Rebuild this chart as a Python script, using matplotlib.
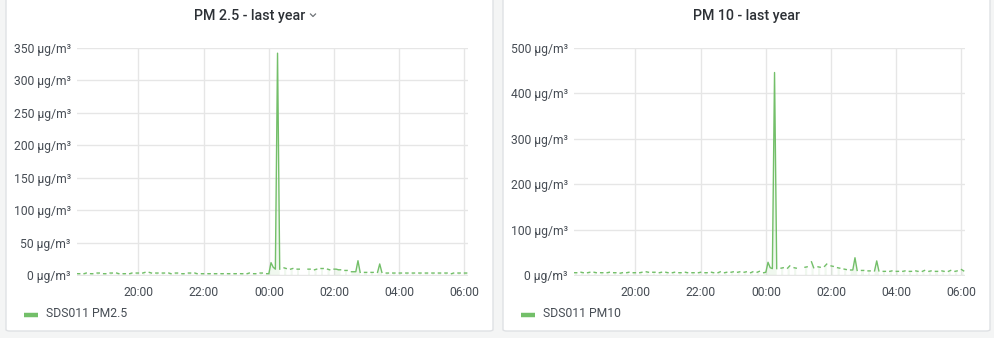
import matplotlib
matplotlib.use("Agg")
import matplotlib.pyplot as plt
import matplotlib.dates as mdates
from matplotlib.patches import FancyBboxPatch
from matplotlib.lines import Line2D
import numpy as np
import pandas as pd

plt.rcParams['font.family'] = ['Roboto', 'DejaVu Sans']

W, H = 994, 338

# readings every 4 minutes from 18:08 to 06:04, None = missing sample
N = None
pm25 = [
    2, 2, N, 2, 3, N, 2, 2, N, 3, 3, N, 2, 2, N,
    3, 3, N, 3, 2, N, 2, 2, N, 2, 3, N, 3, 3, N,
    3, 4, N, 4, 3, N, 3, 3, N, 3, 3, N, 3, 2, N,
    3, 3, N, 2, 2, N, 3, 3, N, 3, 2, N, 2, 2, N,
    2, 2, N, 2, 2, N, 2, 2, N, 2, 2, N, 2, 2, N,
    2, 2, N, 2, 3, N, 2, 2, N, 3, 3, N, 2, 2, 19,
    12, 9, 342, 9, N, 11, 10, N, 9, 10, N, 9, 9, N, 8,
    N, 9, 9, N, 8, 9, N, 10, 10, N, 9, 8, N, 9, 9,
    8, 8, N, 7, 7, N, 5, 5, 5, 22, 4, N, 4, 4, N,
    4, 4, N, 4, 17, 4, N, 3, 3, N, 3, 3, N, 3, 3,
    N, 3, 3, N, 3, 3, N, 3, 3, N, 3, 3, N, 3, 3,
    N, 3, 3, N, 3, 3, N, 2, 3, N, 3, 3, N, 3, 3,
]
pm10 = [
    5, 5, N, 6, 5, N, 5, 6, N, 6, 5, N, 5, 5, N,
    5, 6, N, 5, 5, N, 4, 5, N, 5, 6, N, 5, 5, N,
    5, 6, N, 7, 6, N, 6, 6, N, 5, 6, N, 6, 5, N,
    5, 6, N, 5, 5, N, 6, 5, N, 5, 5, N, 5, 6, N,
    5, 5, N, 6, 5, N, 5, 7, N, 5, 6, N, 6, 7, N,
    6, 7, N, 6, 7, N, 5, 7, N, 6, 8, N, 5, 6, 28,
    16, 14, 446, 14, N, 15, 16, N, 15, 20, N, 16, 15, N, 18,
    N, 17, 18, N, 29, 16, N, 18, 17, N, 19, 24, N, 20, 19,
    N, 16, 15, N, 13, 12, N, 11, 11, 38, 10, N, 10, 10, N,
    9, 9, N, 9, 31, 9, N, 8, 8, N, 8, 9, N, 8, 8,
    N, 8, 9, N, 8, 8, N, 9, 8, N, 8, 10, N, 8, 9,
    N, 8, 8, N, 9, 8, N, 8, 10, N, 8, 9, N, 12, 9,
]
times = pd.date_range('2021-03-01 18:08', periods=len(pm25), freq='4min')

panels = [
    dict(left=6, title="PM 2.5 - last year", label="SDS011 PM2.5", data=pm25,
         yticks=[0, 50, 100, 150, 200, 250, 300, 350], ytop=350, chevron=True),
    dict(left=503, title="PM 10 - last year", label="SDS011 PM10", data=pm10,
         yticks=[0, 100, 200, 300, 400, 500], ytop=500, chevron=False),
]

GREEN = '#73bf69'
TEXT = '#464c54'
GRID = '#e6e6e6'

fig = plt.figure(figsize=(W / 100, H / 100), dpi=100)
fig.patch.set_facecolor('#f4f5f5')


def fx(x):
    return x / W


def fy(y):
    return 1 - y / H


for p in panels:
    L = p['left']
    pw = 487
    box = FancyBboxPatch((fx(L), fy(331)), fx(pw), fy(-6) - fy(331),
                         boxstyle="round,pad=0,rounding_size=0.004",
                         transform=fig.transFigure, facecolor='white',
                         edgecolor='#dfe1e4', linewidth=1, zorder=-5)
    fig.patches.append(box)

    fig.text(fx(L + 243.5), fy(16), p['title'], ha='center', va='center',
             fontsize=10.3, color='#2d3136', fontweight='medium')
    if p['chevron']:
        fig.add_artist(Line2D([fx(310.5), fx(313), fx(315.5)],
                              [fy(14), fy(16.5), fy(14)],
                              transform=fig.transFigure, color='#6e7378', lw=0.9))

    ax_l, ax_r, ax_t, ax_b = L + 71, L + 462.3, 48, 276
    ax = fig.add_axes([fx(ax_l), fy(ax_b), fx(ax_r - ax_l), fy(ax_t) - fy(ax_b)])
    ax.set_zorder(1)
    ax.patch.set_alpha(0)

    y = np.array([np.nan if v is None else v for v in p['data']], dtype=float)
    ax.plot(times, y, color=GREEN, lw=1.0, zorder=3)
    ax.fill_between(times, y, 0, color=GREEN, alpha=0.1, lw=0, zorder=2)

    ax.set_xlim(pd.Timestamp('2021-03-01 18:07'), pd.Timestamp('2021-03-02 06:07'))
    ax.set_ylim(-p['ytop'] * 0.0045, p['ytop'])
    ax.set_yticks(p['yticks'])
    ax.set_yticklabels([f"{v} µg/m³" for v in p['yticks']])
    ax.xaxis.set_major_locator(mdates.HourLocator(byhour=range(0, 24, 2)))
    ax.xaxis.set_major_formatter(mdates.DateFormatter('%H:%M'))

    for s in ax.spines.values():
        s.set_visible(False)
    ax.tick_params(length=0, labelsize=8.7, colors=TEXT)
    ax.tick_params(axis='y', pad=4.5)
    ax.tick_params(axis='x', pad=7)
    ax.grid(True, color=GRID, lw=1)
    ax.set_axisbelow(True)

    fig.add_artist(Line2D([fx(L + 18), fx(L + 32)], [fy(314.5), fy(314.5)],
                          transform=fig.transFigure, color=GREEN, lw=3.2,
                          solid_capstyle='butt'))
    fig.text(fx(L + 40), fy(313.5), p['label'], ha='left', va='center',
             fontsize=8.7, color=TEXT)

fig.savefig('out.png', dpi=100, facecolor=fig.get_facecolor())
